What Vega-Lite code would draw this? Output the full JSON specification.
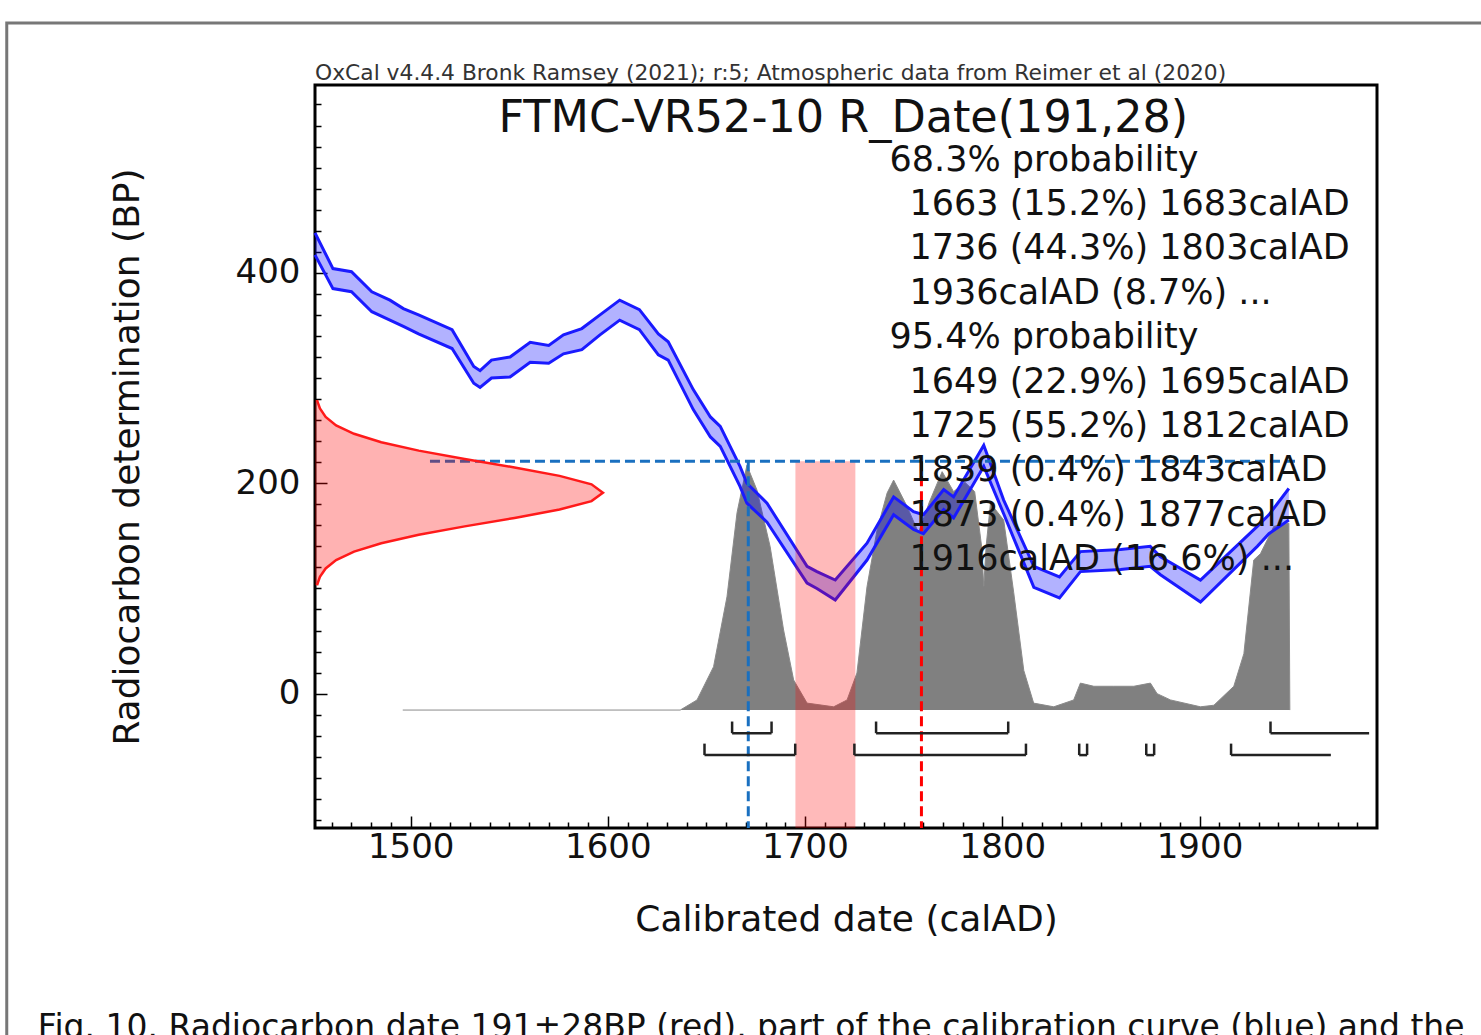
{
  "$schema": "https://vega.github.io/schema/vega-lite/v6.json",
  "width": 1062,
  "height": 743,
  "autosize": {"type": "none"},
  "padding": {"left": 315, "top": 85, "right": 104, "bottom": 207},
  "background": "white",
  "config": {
    "view": {"stroke": "#000", "strokeWidth": 3},
    "font": "DejaVu Sans"
  },
  "resolve": {"axis": {"x": "independent", "y": "independent"}},
  "datasets": {
    "posterior": [
      {"year": 1496, "p": -15.6}, {"year": 1636.7, "p": -15.6}, {"year": 1645.2, "p": -6},
      {"year": 1653.6, "p": 25.6}, {"year": 1660.4, "p": 92}, {"year": 1665.5, "p": 172},
      {"year": 1670.5, "p": 217}, {"year": 1675.6, "p": 193.5}, {"year": 1682.3, "p": 139.6},
      {"year": 1689.1, "p": 60.5}, {"year": 1694.2, "p": 13}, {"year": 1701, "p": -9},
      {"year": 1714.5, "p": -12.5}, {"year": 1721.3, "p": -6}, {"year": 1726.3, "p": 19.6},
      {"year": 1731.4, "p": 101.6}, {"year": 1736.5, "p": 155.5}, {"year": 1741.6, "p": 190.7},
      {"year": 1744.9, "p": 203}, {"year": 1751.7, "p": 178}, {"year": 1757.5, "p": 153},
      {"year": 1763, "p": 182}, {"year": 1769.5, "p": 211}, {"year": 1775.3, "p": 192},
      {"year": 1781, "p": 201}, {"year": 1786, "p": 192}, {"year": 1789.5, "p": 140},
      {"year": 1790.6, "p": 102}, {"year": 1791.8, "p": 140}, {"year": 1794, "p": 181},
      {"year": 1800.7, "p": 165}, {"year": 1805.8, "p": 96}, {"year": 1810.9, "p": 22},
      {"year": 1815.9, "p": -9}, {"year": 1826.1, "p": -12.5}, {"year": 1836.2, "p": -6},
      {"year": 1839.6, "p": 10}, {"year": 1846.4, "p": 7}, {"year": 1856.5, "p": 7},
      {"year": 1866.7, "p": 7}, {"year": 1875.1, "p": 10}, {"year": 1878.5, "p": 0},
      {"year": 1885.3, "p": -6}, {"year": 1900.5, "p": -12.5}, {"year": 1907.3, "p": -11},
      {"year": 1917.4, "p": 7}, {"year": 1922.5, "p": 38}, {"year": 1927.5, "p": 127},
      {"year": 1930.9, "p": 133}, {"year": 1937.7, "p": 159}, {"year": 1945.3, "p": 162},
      {"year": 1945.8, "p": -15.6}
    ],
    "curve": [
      {"year": 1451.5, "hi": 438, "lo": 417}, {"year": 1460.6, "hi": 404, "lo": 385},
      {"year": 1470, "hi": 401, "lo": 382}, {"year": 1480.3, "hi": 382, "lo": 363},
      {"year": 1489.5, "hi": 374, "lo": 355}, {"year": 1496.3, "hi": 366, "lo": 349},
      {"year": 1504, "hi": 360, "lo": 342}, {"year": 1521, "hi": 346, "lo": 328},
      {"year": 1532, "hi": 311, "lo": 295}, {"year": 1535.2, "hi": 307, "lo": 291},
      {"year": 1541, "hi": 317, "lo": 300}, {"year": 1550.4, "hi": 320, "lo": 301},
      {"year": 1560.6, "hi": 334, "lo": 315}, {"year": 1570, "hi": 331, "lo": 314},
      {"year": 1577.5, "hi": 341, "lo": 323}, {"year": 1586.8, "hi": 347, "lo": 327},
      {"year": 1596, "hi": 360, "lo": 341}, {"year": 1606, "hi": 374, "lo": 355},
      {"year": 1616, "hi": 365, "lo": 346}, {"year": 1625.6, "hi": 342, "lo": 322},
      {"year": 1630.6, "hi": 334.5, "lo": 317}, {"year": 1643.3, "hi": 289, "lo": 270},
      {"year": 1652, "hi": 263, "lo": 244}, {"year": 1657, "hi": 254, "lo": 235},
      {"year": 1662, "hi": 235, "lo": 216}, {"year": 1667, "hi": 216, "lo": 197},
      {"year": 1670.5, "hi": 200, "lo": 181}, {"year": 1680.7, "hi": 181, "lo": 163},
      {"year": 1701, "hi": 121, "lo": 105}, {"year": 1706, "hi": 116, "lo": 100},
      {"year": 1715.3, "hi": 108, "lo": 89}, {"year": 1731.4, "hi": 143, "lo": 127},
      {"year": 1744.9, "hi": 187, "lo": 170}, {"year": 1755, "hi": 173, "lo": 156},
      {"year": 1760, "hi": 170, "lo": 152}, {"year": 1770.3, "hi": 194, "lo": 175},
      {"year": 1775.3, "hi": 187, "lo": 167}, {"year": 1790.6, "hi": 236, "lo": 216},
      {"year": 1800.7, "hi": 184, "lo": 171}, {"year": 1816, "hi": 121, "lo": 101},
      {"year": 1829, "hi": 111, "lo": 91}, {"year": 1839.6, "hi": 135, "lo": 116},
      {"year": 1860, "hi": 137, "lo": 118}, {"year": 1875, "hi": 140, "lo": 121},
      {"year": 1880.2, "hi": 130, "lo": 113}, {"year": 1900.5, "hi": 108, "lo": 87},
      {"year": 1929.3, "hi": 159, "lo": 140}, {"year": 1935.2, "hi": 170, "lo": 152},
      {"year": 1945.3, "hi": 195, "lo": 165}
    ],
    "measurement": [
      {"bp": 103, "year": 1452.5}, {"bp": 111, "year": 1454.0}, {"bp": 119, "year": 1456.9},
      {"bp": 127, "year": 1462.2}, {"bp": 135, "year": 1471.3}, {"bp": 143, "year": 1485.1},
      {"bp": 151, "year": 1504.1}, {"bp": 159, "year": 1527.4}, {"bp": 167, "year": 1552.7},
      {"bp": 175, "year": 1575.5}, {"bp": 183, "year": 1591.7}, {"bp": 191, "year": 1597.5},
      {"bp": 199, "year": 1591.7}, {"bp": 207, "year": 1575.5}, {"bp": 215, "year": 1552.7},
      {"bp": 223, "year": 1527.4}, {"bp": 231, "year": 1504.1}, {"bp": 239, "year": 1485.1},
      {"bp": 247, "year": 1471.3}, {"bp": 255, "year": 1462.2}, {"bp": 263, "year": 1456.9},
      {"bp": 271, "year": 1454.0}, {"bp": 279, "year": 1452.5}
    ],
    "ranges": [
      {"level": "68.3", "from": 1663, "to": 1683, "closed": true},
      {"level": "68.3", "from": 1736, "to": 1803, "closed": true},
      {"level": "68.3", "from": 1936, "to": 1986, "closed": false},
      {"level": "95.4", "from": 1649, "to": 1695, "closed": true},
      {"level": "95.4", "from": 1725, "to": 1812, "closed": true},
      {"level": "95.4", "from": 1839, "to": 1843, "closed": true},
      {"level": "95.4", "from": 1873, "to": 1877, "closed": true},
      {"level": "95.4", "from": 1916, "to": 1966.6, "closed": false}
    ],
    "one": [{}]
  },
  "layer": [
    {
      "data": {"name": "posterior"},
      "mark": {"type": "area", "color": "#808080", "opacity": 1, "line": {"color": "#8a8a8a", "strokeWidth": 1}},
      "encoding": {
        "x": {
          "field": "year", "type": "quantitative",
          "scale": {"domain": [1451.5, 1990], "nice": false, "zero": false},
          "axis": {
            "orient": "bottom",
            "title": "Calibrated date (calAD)",
            "values": [1500, 1600, 1700, 1800, 1900],
            "format": "d",
            "tickSize": -12,
            "tickColor": "#000", "tickWidth": 1.5,
            "domain": false, "grid": false,
            "labelFontSize": 34, "labelColor": "#111", "labelPadding": 14,
            "labelFlush": false, "labelOverlap": false, "labelFont": "DejaVu Sans",
            "titleFontSize": 36, "titleFontWeight": "normal", "titleColor": "#111",
            "titleFont": "DejaVu Sans", "titlePadding": 38
          }
        },
        "y": {
          "field": "p", "type": "quantitative",
          "scale": {"domain": [-127.7, 578.5], "nice": false, "zero": false},
          "axis": {
            "orient": "left",
            "title": "Radiocarbon determination (BP)",
            "values": [0, 200, 400],
            "format": "d",
            "tickSize": -12,
            "tickColor": "#000", "tickWidth": 1.5,
            "domain": false, "grid": false,
            "labelFontSize": 34, "labelColor": "#111", "labelPadding": 27,
            "labelFlush": false, "labelOverlap": false, "labelFont": "DejaVu Sans",
            "titleFontSize": 36, "titleFontWeight": "normal", "titleColor": "#111",
            "titleFont": "DejaVu Sans", "titlePadding": 89
          }
        },
        "y2": {"datum": -15.6}
      }
    },
    {
      "data": {"name": "curve"},
      "mark": {"type": "area", "color": "#0000ff", "opacity": 0.3},
      "encoding": {
        "x": {"field": "year", "type": "quantitative",
          "axis": {
            "orient": "bottom",
            "title": null, "labels": false, "domain": false, "grid": false,
            "values": [1460,1470,1480,1490,1510,1520,1530,1540,1550,1560,1570,1580,1590,1610,1620,1630,1640,1650,1660,1670,1680,1690,1710,1720,1730,1740,1750,1760,1770,1780,1790,1810,1820,1830,1840,1850,1860,1870,1880,1890,1910,1920,1930,1940,1950,1960,1970,1980],
            "tickSize": -6, "tickColor": "#000", "tickWidth": 1.5
          }
        },
        "y": {"field": "hi", "type": "quantitative",
          "axis": {
            "orient": "left",
            "title": null, "labels": false, "domain": false, "grid": false,
            "values": [-120,-100,-80,-60,-40,-20,20,40,60,80,100,120,140,160,180,220,240,260,280,300,320,340,360,380,420,440,460,480,500,520,540,560],
            "tickSize": -6, "tickColor": "#000", "tickWidth": 1.5
          }
        },
        "y2": {"field": "lo"}
      }
    },
    {
      "data": {"name": "curve"},
      "mark": {"type": "line", "color": "#1a1aff", "strokeWidth": 3},
      "encoding": {
        "x": {"field": "year", "type": "quantitative", "axis": null},
        "y": {"field": "hi", "type": "quantitative", "axis": null}
      }
    },
    {
      "data": {"name": "curve"},
      "mark": {"type": "line", "color": "#1a1aff", "strokeWidth": 3},
      "encoding": {
        "x": {"field": "year", "type": "quantitative", "axis": null},
        "y": {"field": "lo", "type": "quantitative", "axis": null}
      }
    },
    {
      "data": {"name": "one"},
      "mark": {"type": "rect", "color": "#ff0000", "opacity": 0.27},
      "encoding": {
        "x": {"datum": 1695.1, "type": "quantitative", "axis": null},
        "x2": {"datum": 1725.5},
        "y": {"datum": 221, "type": "quantitative", "axis": null},
        "y2": {"datum": -127.7}
      }
    },
    {
      "data": {"name": "one"},
      "mark": {"type": "rule", "color": "#1a70c0", "strokeWidth": 3, "strokeDash": [10, 5]},
      "encoding": {
        "x": {"datum": 1509.8, "type": "quantitative", "axis": null},
        "x2": {"datum": 1950.4},
        "y": {"datum": 221, "type": "quantitative", "axis": null}
      }
    },
    {
      "data": {"name": "one"},
      "mark": {"type": "rule", "color": "#1a70c0", "strokeWidth": 3, "strokeDash": [10, 5]},
      "encoding": {
        "x": {"datum": 1671.2, "type": "quantitative", "axis": null},
        "y": {"datum": 221, "type": "quantitative", "axis": null},
        "y2": {"datum": -127.7}
      }
    },
    {
      "data": {"name": "one"},
      "mark": {"type": "rule", "color": "#ff0000", "strokeWidth": 3, "strokeDash": [10, 5]},
      "encoding": {
        "x": {"datum": 1759, "type": "quantitative", "axis": null},
        "y": {"datum": 221, "type": "quantitative", "axis": null},
        "y2": {"datum": -127.7}
      }
    },
    {
      "data": {"name": "measurement"},
      "mark": {"type": "area", "orient": "horizontal", "color": "#ff0000", "opacity": 0.3},
      "encoding": {
        "y": {"field": "bp", "type": "quantitative", "axis": null},
        "x": {"field": "year", "type": "quantitative", "axis": null},
        "x2": {"datum": 1451.5}
      }
    },
    {
      "data": {"name": "measurement"},
      "mark": {"type": "line", "color": "#ff1a1a", "strokeWidth": 2.5},
      "encoding": {
        "y": {"field": "bp", "type": "quantitative", "axis": null},
        "x": {"field": "year", "type": "quantitative", "axis": null},
        "order": {"field": "bp"}
      }
    },
    {
      "data": {"name": "ranges"},
      "transform": [{"filter": "datum.level === '68.3'"}],
      "layer": [
        {
          "mark": {"type": "rule", "color": "#222", "strokeWidth": 2.5},
          "encoding": {
            "x": {"field": "from", "type": "quantitative", "axis": null},
            "x2": {"field": "to"},
            "y": {"datum": -37.6, "type": "quantitative", "axis": null}
          }
        },
        {
          "mark": {"type": "rule", "color": "#222", "strokeWidth": 2.5},
          "encoding": {
            "x": {"field": "from", "type": "quantitative", "axis": null},
            "y": {"datum": -37.6, "type": "quantitative", "axis": null},
            "y2": {"datum": -26.5}
          }
        },
        {
          "transform": [{"filter": "datum.closed"}],
          "mark": {"type": "rule", "color": "#222", "strokeWidth": 2.5},
          "encoding": {
            "x": {"field": "to", "type": "quantitative", "axis": null},
            "y": {"datum": -37.6, "type": "quantitative", "axis": null},
            "y2": {"datum": -26.5}
          }
        }
      ]
    },
    {
      "data": {"name": "ranges"},
      "transform": [{"filter": "datum.level === '95.4'"}],
      "layer": [
        {
          "mark": {"type": "rule", "color": "#222", "strokeWidth": 2.5},
          "encoding": {
            "x": {"field": "from", "type": "quantitative", "axis": null},
            "x2": {"field": "to"},
            "y": {"datum": -58.4, "type": "quantitative", "axis": null}
          }
        },
        {
          "mark": {"type": "rule", "color": "#222", "strokeWidth": 2.5},
          "encoding": {
            "x": {"field": "from", "type": "quantitative", "axis": null},
            "y": {"datum": -58.4, "type": "quantitative", "axis": null},
            "y2": {"datum": -47.5}
          }
        },
        {
          "transform": [{"filter": "datum.closed"}],
          "mark": {"type": "rule", "color": "#222", "strokeWidth": 2.5},
          "encoding": {
            "x": {"field": "to", "type": "quantitative", "axis": null},
            "y": {"datum": -58.4, "type": "quantitative", "axis": null},
            "y2": {"datum": -47.5}
          }
        }
      ]
    },
    {
      "data": {"name": "one"},
      "mark": {"type": "text", "text": "OxCal v4.4.4 Bronk Ramsey (2021); r:5; Atmospheric data from Reimer et al (2020)", "fontSize": 21.8, "align": "left", "baseline": "alphabetic", "font": "DejaVu Sans", "color": "#333"},
      "encoding": {
        "x": {"datum": 1451.5, "type": "quantitative", "axis": null},
        "y": {"datum": 583.3, "type": "quantitative", "axis": null}
      }
    },
    {
      "data": {"name": "one"},
      "mark": {"type": "text", "text": "FTMC-VR52-10 R_Date(191,28)", "fontSize": 44.5, "align": "center", "baseline": "middle", "font": "DejaVu Sans", "color": "#111"},
      "encoding": {
        "x": {"datum": 1719.4, "type": "quantitative", "axis": null},
        "y": {"datum": 546, "type": "quantitative", "axis": null}
      }
    },
    {
      "data": {"name": "one"},
      "mark": {"type": "text", "text": "68.3% probability", "fontSize": 35, "align": "left", "baseline": "alphabetic", "font": "DejaVu Sans", "color": "#111"},
      "encoding": {
        "x": {"datum": 1742.8, "type": "quantitative", "axis": null},
        "y": {"datum": 497.2, "type": "quantitative", "axis": null}
      }
    },
    {
      "data": {"name": "one"},
      "mark": {
        "type": "text",
        "text": ["1663 (15.2%) 1683calAD", "1736 (44.3%) 1803calAD", "1936calAD (8.7%) ..."],
        "fontSize": 35, "lineHeight": 44.4, "align": "left", "baseline": "alphabetic",
        "font": "DejaVu Sans", "color": "#111"
      },
      "encoding": {
        "x": {"datum": 1752.95, "type": "quantitative", "axis": null},
        "y": {"datum": 455.0, "type": "quantitative", "axis": null}
      }
    },
    {
      "data": {"name": "one"},
      "mark": {"type": "text", "text": "95.4% probability", "fontSize": 35, "align": "left", "baseline": "alphabetic", "font": "DejaVu Sans", "color": "#111"},
      "encoding": {
        "x": {"datum": 1742.8, "type": "quantitative", "axis": null},
        "y": {"datum": 328.4, "type": "quantitative", "axis": null}
      }
    },
    {
      "data": {"name": "one"},
      "mark": {
        "type": "text",
        "text": ["1649 (22.9%) 1695calAD", "1725 (55.2%) 1812calAD", "1839 (0.4%) 1843calAD", "1873 (0.4%) 1877calAD", "1916calAD (16.6%) ..."],
        "fontSize": 35, "lineHeight": 44.4, "align": "left", "baseline": "alphabetic",
        "font": "DejaVu Sans", "color": "#111"
      },
      "encoding": {
        "x": {"datum": 1752.95, "type": "quantitative", "axis": null},
        "y": {"datum": 286.2, "type": "quantitative", "axis": null}
      }
    },
    {
      "data": {"name": "one"},
      "mark": {"type": "rect", "fillOpacity": 0, "stroke": "#777", "strokeWidth": 3},
      "encoding": {
        "x": {"datum": 1295.2, "type": "quantitative", "axis": null},
        "x2": {"datum": 2100},
        "y": {"datum": 637.5, "type": "quantitative", "axis": null},
        "y2": {"datum": -700}
      }
    },
    {
      "data": {"name": "one"},
      "mark": {"type": "text", "text": "Fig. 10. Radiocarbon date 191±28BP (red), part of the calibration curve (blue) and the", "fontSize": 33, "align": "left", "baseline": "alphabetic", "font": "DejaVu Sans", "color": "#111"},
      "encoding": {
        "x": {"datum": 1310.96, "type": "quantitative", "axis": null},
        "y": {"datum": -327.4, "type": "quantitative", "axis": null}
      }
    }
  ]
}
